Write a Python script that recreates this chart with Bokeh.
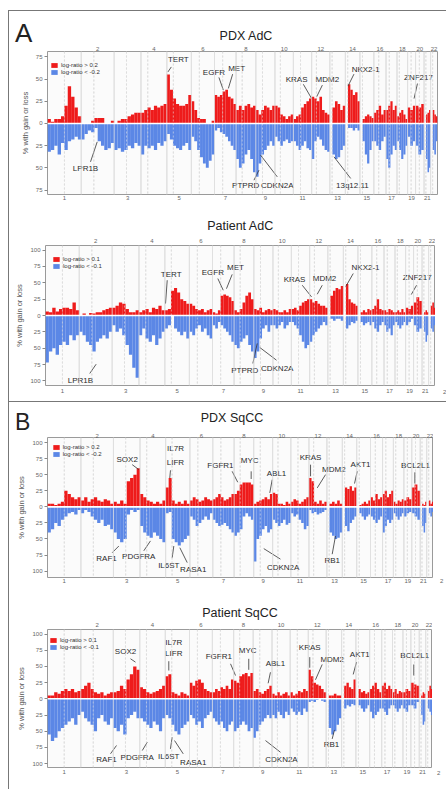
from bokeh.plotting import figure
from bokeh.models import (FixedTicker, LinearAxis, Range1d, Span, Legend, LegendItem, Div)
from bokeh.layouts import column, row
from bokeh.embed import file_html
from bokeh.resources import INLINE
from bokeh.core.properties import value

# ---------------- genome layout (Mb) ----------------
chrom_names = [str(i) for i in range(1, 23)]
chrom_len = [249, 243, 198, 191, 181, 171, 159, 146, 141, 136, 135, 134,
             115, 107, 103, 90, 81, 78, 59, 63, 48, 51]
centromere = [125, 93, 91, 50, 48, 59, 60, 45, 49, 40, 53, 35,
              17, 17, 19, 36, 24, 17, 26, 28, 13, 15]
data_start = [0] * 12 + [19, 19, 20] + [0] * 5 + [14, 16]

# ---------------- % of samples with gain / loss, per chromosome bins ----------------
pdx_adc_gain = [
    [5, 2, 5, 5, 8, 20, 42, 30, 18, 8], [0, 0, 0, 3, 6, 6, 6, 0, 0, 3],
    [0, 3, 5, 5, 8, 10, 12, 12], [12, 15, 18, 15, 20, 18, 20, 22],
    [55, 38, 28, 22, 20, 20, 22, 32], [25, 15, 6, 5, 5, 0, 0, 3],
    [32, 30, 32, 36, 38, 30, 28, 22], [15, 20, 15, 20, 22, 18, 20],
    [15, 10, 15, 20, 18, 15, 20], [20, 18, 10, 8, 5, 8, 10],
    [5, 8, 10, 18, 22, 25, 28], [30, 28, 25, 30, 15, 12, 10],
    [18, 25, 22, 15, 20], [44, 38, 32, 35, 25], [5, 8, 10, 8, 6],
    [12, 15, 20, 10, 15], [15, 20, 25, 15, 20], [8, 12, 15, 10, 5],
    [18, 15, 20], [20, 18, 22], [10, 12, 15], [15, 10, 8]]
pdx_adc_loss = [
    [32, 30, 25, 35, 22, 30, 20, 18, 15, 18], [18, 12, 8, 10, 5, 20, 25, 30, 28, 22],
    [30, 28, 32, 30, 25, 28, 22, 25], [35, 25, 28, 25, 30, 22, 25, 20],
    [12, 18, 25, 28, 30, 25, 22, 30], [15, 20, 30, 38, 45, 50, 42, 35],
    [8, 5, 10, 12, 15, 20, 25, 30], [40, 50, 45, 35, 30, 40, 55],
    [60, 45, 35, 30, 25, 20, 25], [15, 20, 25, 20, 18, 22, 20],
    [20, 25, 30, 25, 20, 28, 30], [40, 20, 15, 18, 25, 30, 32],
    [35, 40, 38, 30, 25], [5, 5, 8, 5, 8], [20, 35, 45, 30, 20],
    [20, 25, 30, 20, 15], [40, 50, 35, 25, 30], [20, 30, 40, 35, 25],
    [15, 25, 20], [25, 35, 30], [40, 55, 50], [30, 35, 20]]

pat_adc_gain = [
    [6, 5, 12, 6, 10, 12, 12, 10, 20, 8], [0, 3, 0, 4, 3, 5, 5, 8, 10, 12],
    [12, 15, 20, 18, 10, 5, 5, 8], [5, 8, 10, 5, 12, 10, 15, 8],
    [8, 10, 38, 42, 35, 25, 22, 18], [18, 15, 10, 8, 10, 5, 8, 10],
    [5, 3, 8, 30, 32, 30, 28, 22], [8, 5, 10, 20, 30, 35, 25],
    [10, 8, 12, 5, 8, 10, 8], [10, 8, 5, 5, 8, 5, 10],
    [10, 12, 8, 15, 20, 22, 25], [25, 20, 22, 18, 15, 15, 12],
    [30, 38, 42, 40, 45], [48, 25, 20, 18, 15], [5, 8, 5, 10, 8],
    [10, 15, 25, 10, 8], [8, 5, 10, 8, 5], [5, 8, 5, 10, 5],
    [12, 10, 15], [20, 28, 22], [5, 8, 5], [15, 20, 12]]
pat_adc_loss = [
    [72, 55, 50, 60, 45, 40, 45, 30, 38, 30], [25, 30, 40, 45, 55, 40, 35, 30, 35, 25],
    [15, 25, 20, 30, 45, 60, 80, 95], [30, 20, 35, 40, 30, 45, 35, 25],
    [20, 15, 0, 20, 25, 30, 25, 35], [25, 30, 20, 15, 25, 20, 30, 35],
    [15, 20, 10, 15, 20, 25, 30, 40], [45, 50, 40, 35, 30, 45, 55],
    [65, 55, 35, 20, 15, 25, 15], [15, 20, 15, 10, 20, 15, 10],
    [10, 15, 20, 30, 40, 50, 45], [40, 30, 25, 20, 15, 10, 15],
    [5, 8, 5, 5, 8], [20, 15, 10, 12, 8], [10, 15, 12, 10, 15],
    [10, 20, 25, 15, 10], [15, 25, 20, 30, 15], [10, 15, 20, 15, 10],
    [15, 10, 5], [15, 25, 20], [25, 40, 30], [20, 25, 15]]

pdx_sqcc_gain = [
    [5, 5, 3, 5, 8, 25, 20, 15, 12, 15], [10, 15, 8, 12, 15, 10, 8, 12, 10, 5],
    [8, 5, 10, 5, 40, 45, 50, 60], [20, 15, 10, 8, 5, 8, 5, 10],
    [30, 45, 10, 5, 8, 5, 10, 5], [10, 15, 12, 8, 10, 15, 12, 10],
    [12, 15, 20, 15, 10, 12, 15, 20], [20, 25, 35, 38, 38, 38, 35],
    [5, 8, 10, 12, 15, 12, 20], [22, 20, 5, 5, 3, 8, 5],
    [8, 12, 10, 5, 8, 12, 15], [45, 40, 8, 5, 10, 5, 8],
    [5, 8, 5, 10, 5], [30, 28, 32, 25, 30], [3, 5, 8, 5, 10],
    [15, 10, 20, 12, 15], [20, 25, 15, 20, 25], [8, 5, 10, 8, 12],
    [10, 15, 12], [30, 35, 25], [5, 3, 8], [10, 5, 8]]
pdx_sqcc_loss = [
    [40, 35, 25, 30, 20, 15, 10, 8, 12, 5], [10, 5, 8, 15, 20, 25, 20, 30, 28, 35],
    [40, 50, 55, 50, 12, 5, 8, 5], [30, 40, 45, 48, 40, 45, 50, 55],
    [10, 8, 50, 55, 60, 55, 50, 45], [15, 20, 30, 25, 20, 15, 20, 10],
    [20, 25, 30, 28, 25, 30, 35, 40], [45, 40, 35, 15, 10, 15, 20],
    [85, 50, 45, 35, 30, 40, 35], [20, 25, 30, 25, 20, 28, 25],
    [10, 15, 12, 20, 25, 35, 30], [5, 10, 8, 12, 10, 8, 5],
    [40, 45, 50, 48, 40], [30, 38, 25, 20, 15], [10, 15, 20, 15, 12],
    [15, 20, 25, 20, 15], [40, 30, 20, 25, 20], [10, 15, 20, 15, 10],
    [15, 10, 8], [10, 15, 20], [30, 40, 25], [10, 15, 8]]

pat_sqcc_gain = [
    [5, 5, 10, 8, 12, 15, 12, 15, 10, 12], [15, 20, 25, 15, 10, 8, 10, 5, 8, 10],
    [10, 12, 20, 15, 30, 38, 50, 45], [18, 15, 10, 8, 10, 12, 15, 20],
    [35, 38, 10, 8, 5, 10, 8, 5], [25, 20, 28, 30, 25, 15, 12, 10],
    [10, 15, 12, 18, 15, 20, 15, 30], [28, 25, 35, 38, 40, 35, 40],
    [12, 15, 10, 8, 12, 15, 20], [8, 5, 10, 5, 8, 10, 5],
    [10, 5, 8, 12, 10, 15, 12], [45, 35, 25, 22, 20, 15, 10],
    [5, 5, 8, 5, 5], [20, 25, 18, 15, 30], [15, 10, 12, 8, 10],
    [15, 20, 25, 15, 10], [20, 25, 15, 20, 15], [10, 15, 8, 12, 10],
    [10, 15, 12], [25, 22, 20], [5, 10, 8], [12, 20, 15]]
pat_sqcc_loss = [
    [55, 65, 60, 50, 45, 40, 35, 30, 40, 25], [20, 30, 35, 40, 50, 30, 25, 35, 40, 30],
    [45, 50, 40, 55, 30, 25, 20, 30], [30, 35, 40, 45, 35, 40, 50, 30],
    [25, 30, 40, 50, 55, 45, 40, 35], [25, 30, 40, 35, 45, 30, 25, 20],
    [30, 35, 40, 35, 45, 50, 40, 35], [50, 45, 40, 35, 40, 50, 45],
    [60, 50, 40, 35, 30, 25, 30], [25, 30, 20, 25, 30, 20, 25],
    [15, 20, 25, 20, 25, 15, 20], [5, 3, 5, 2, 0, 3, 5],
    [45, 55, 50, 40, 30], [15, 10, 12, 8, 10], [10, 15, 20, 15, 10],
    [20, 30, 25, 20, 15], [15, 20, 25, 15, 10], [10, 15, 20, 15, 10],
    [15, 20, 10], [10, 15, 5], [25, 40, 35], [15, 20, 25]]

# gene callouts: text, chrom, position (Mb), value (%), leader-end offset (px), text offset (px)
genes_pdx_adc = [
    ("TERT", 5, 8, 58, 3.4, -5, 10.4, -12.7), ("EGFR", 7, 65, 37.5, -4.4, -12.7, -9.4, -17.7),
    ("MET", 7, 102, 39.4, 4.3, -14.3, 8.3, -20), ("KRAS", 12, 0, 28, -8.3, -14.3, -15, -19.3),
    ("MDM2", 12, 37, 30, 5.7, -11.7, 10.7, -17.7), ("NKX2-1", 14, 19, 42, 6, -12, 17.7, -17),
    ("ZNF217", 19, 48, 28, 3.4, -15, 4.4, -21), ("LPR1B", 2, 118, -20.7, -6.7, 20, -11.7, 26.6),
    ("PTPRD", 9, 23, -52.6, -5, 10, -13.3, 15.7), ("CDKN2A", 9, 35, -35.7, 16.7, 21.7, 16.7, 30),
    ("13q12.11", 13, 31, -37.6, 16.7, 21.6, 18.4, 28.3)]
genes_pat_adc = [
    ("TERT", 5, 5, 18.3, 1.7, -23.3, 5.7, -29.3), ("EGFR", 7, 79, 38.6, -5.4, -11.7, -10.4, -17.7),
    ("MET", 7, 103, 41, 5.7, -14.3, 9, -21), ("KRAS", 12, 14, 28.4, -9.3, -11.7, -17, -17.4),
    ("MDM2", 12, 56, 32.5, 5, -9, 7.3, -15.7), ("NKX2-1", 14, 16, 43.7, 7.7, -13.4, 20, -19),
    ("ZNF217", 19, 42, 32, 5.3, -9.3, 6, -17), ("LPR1B", 2, 125, -74.4, -6.4, 9.3, -15.7, 16),
    ("PTPRD", 9, 25, -42.7, -4.4, 20, -12.4, 26.7), ("CDKN2A", 9, 44, -48.9, 16.7, 12.7, 17.4, 21)]
genes_pdx_sqcc = [
    ("SOX2", 3, 189, 58, -6.6, -5, -11.6, -10.6), ("LIFR", 5, 31, 45, 0.7, -7.7, 5.7, -15.7),
    ("IL7R", 5, 31, 45, None, None, 5.7, -29.4), ("FGFR1", 8, 27, 38.3, -5.6, -11, -17.3, -17),
    ("MYC", 8, 127, 43.4, 0, -7.7, -1.4, -18.7), ("ABL1", 9, 120, 21.7, 2.4, -13.4, 6.7, -20),
    ("KRAS", 12, 12, 47.6, 0, -11.7, 0, -19.3), ("MDM2", 12, 62, 29.5, 8.3, -13.4, 16.6, -19),
    ("AKT1", 14, 91, 36.3, 2.7, -12.3, 6, -19.6), ("BCL2L1", 20, 23, 36.3, 0, -11.3, 0.7, -18.3),
    ("RAF1", 3, 40, -61, -6.6, 6.7, -12.3, 12.3), ("PDGFRA", 4, 78, -53, -6.7, 10, -11.7, 16),
    ("IL6ST", 5, 61, -61, -1.6, 11.7, -5, 19.3), ("RASA1", 5, 106, -63.6, 7.4, 15, 13.4, 22.3),
    ("CDKN2A", 9, 75, -65, 16.7, 10.6, 19.4, 19), ("RB1", 13, 64, -45.4, -3.3, 18.3, -3.3, 25)]
genes_pat_sqcc = [
    ("SOX2", 3, 166, 56.6, -5, -3.4, -10, -10.7), ("LIFR", 5, 26, 43.7, 0, -9.3, 5, -17.3),
    ("IL7R", 5, 26, 43.7, None, None, 5, -27.7), ("FGFR1", 8, 14, 36, -5, -11.7, -16.7, -19.3),
    ("MYC", 8, 113, 44.8, 0, -11, -1, -19.3), ("ABL1", 9, 112, 24, 2.3, -11, 7.3, -20),
    ("KRAS", 12, 11, 48, 0, -10.6, 0, -20.6), ("MDM2", 12, 54, 29.4, 6.7, -15.3, 16.7, -20.3),
    ("AKT1", 14, 87, 37.6, 3.3, -12.3, 6.6, -19.7), ("BCL2L1", 20, 22, 36, 0, -11, 1, -20),
    ("RAF1", 3, 24, -72, -6, 8.3, -10, 14), ("PDGFRA", 4, 56, -67, -5, 8.3, -10, 15),
    ("IL6ST", 5, 51, -59.4, -1.7, 11.6, -3.4, 19), ("RASA1", 5, 69, -64.4, 8.7, 13.3, 18.7, 21.7),
    ("CDKN2A", 9, 92, -64.4, 15, 11.7, 16, 19), ("RB1", 13, 62, -48, -2.3, 9, -3, 14.7)]

RED = "#ee1b1b"
BLUE = "#5b87e6"
FONT = "Liberation Sans"
LINE_GRAY = "#d2d2d2"

starts = []
_s = 0
for L in chrom_len:
    starts.append(_s)
    _s += L
GENOME = _s
centers = [starts[i] + chrom_len[i] / 2 for i in range(22)]


def bins(values):
    left, right, v = [], [], []
    for i, vals in enumerate(values):
        a = starts[i] + data_start[i]
        b = starts[i] + chrom_len[i]
        w = (b - a) / len(vals)
        for k, x in enumerate(vals):
            left.append(a + k * w)
            right.append(a + (k + 1) * w)
            v.append(x)
    return left, right, v


def make_panel(title, gains, losses, thr, yr, yticks, fw, fh, bl, br, bt, bb, genes,
               legend_pos=(4, 9), title_standoff=0, title_offset=0, top_standoff=2,
               bottom_standoff=1):
    p = figure(width=bl + fw + br, height=bt + fh + bb, x_range=Range1d(0, GENOME),
               y_range=Range1d(*yr), output_backend="svg", toolbar_location=None,
               min_border_left=bl, min_border_right=br, min_border_top=bt,
               min_border_bottom=bb, title=title)
    if title:
        p.title.align = "center"
        p.title.text_font = FONT
        p.title.text_font_size = "12.5px"
        p.title.text_font_style = "normal"
        p.title.text_color = "#222222"
        p.title.standoff = title_standoff
        p.title.offset = title_offset
    p.grid.visible = False
    p.background_fill_color = "#fbfbfb"
    p.border_fill_color = "white"
    p.outline_line_color = "#9a9a9a"
    p.outline_line_width = 1

    xs = GENOME / fw
    ys = (yr[1] - yr[0]) / fh

    for i in range(1, 22):
        p.add_layout(Span(location=starts[i], dimension="height", line_color=LINE_GRAY,
                          line_width=1, level="underlay"))
    for i in range(22):
        p.add_layout(Span(location=starts[i] + centromere[i], dimension="height",
                          line_color=LINE_GRAY, line_width=1, line_dash="2 2",
                          level="underlay"))

    gl, gr, gv = bins(gains)
    ll, lr, lv = bins(losses)
    rg = p.quad(left=gl, right=gr, bottom=0, top=gv, fill_color=RED, line_color=None)
    rb = p.quad(left=ll, right=lr, top=0, bottom=[-x for x in lv], fill_color=BLUE,
                line_color=None)
    for i in range(1, 22):
        p.add_layout(Span(location=starts[i], dimension="height", line_color="#e6e6e6",
                          line_width=0.8, line_alpha=0.9))
    for i in range(22):
        p.add_layout(Span(location=starts[i] + centromere[i], dimension="height",
                          line_color="#e6e6e6", line_width=0.7, line_dash="2 2",
                          line_alpha=0.8))
    p.add_layout(Span(location=0, dimension="width", line_color="white", line_width=1.6))

    bottom = p.below[0]
    left = p.left[0]
    left.ticker = FixedTicker(ticks=yticks)
    left.major_label_overrides = {t: str(abs(t)) for t in yticks}
    left.major_label_text_font_size = "6px"
    left.major_label_text_color = "#666666"
    left.major_label_text_font = FONT
    left.major_tick_out = 3
    left.major_tick_in = 0
    left.minor_tick_out = 0
    left.minor_tick_in = 0
    left.major_tick_line_color = "#888888"
    left.axis_line_color = None
    left.major_label_standoff = 2
    left.axis_label = "% with gain or loss"
    left.axis_label_text_font = FONT
    left.axis_label_text_font_size = "7.5px"
    left.axis_label_text_font_style = "normal"
    left.axis_label_text_color = "#555555"
    left.axis_label_standoff = 3

    odd = [centers[i] for i in range(0, 22, 2)]
    even = [centers[i] for i in range(1, 22, 2)]
    names = {c: chrom_names[i] for i, c in enumerate(centers)}
    bottom.ticker = FixedTicker(ticks=odd)
    bottom.major_label_overrides = names
    top = LinearAxis(ticker=FixedTicker(ticks=even), major_label_overrides=names)
    p.add_layout(top, "above")
    for ax, so in ((bottom, bottom_standoff), (top, top_standoff)):
        ax.major_label_text_font_size = "6px"
        ax.major_label_text_color = "#666666"
        ax.major_label_text_font = FONT
        ax.major_tick_out = 0
        ax.major_tick_in = 0
        ax.minor_tick_out = 0
        ax.minor_tick_in = 0
        ax.axis_line_color = None
        ax.major_label_standoff = so

    pad = 1
    leg_h = 2 * 6 + 1 + 2 * pad
    legend = Legend(items=[LegendItem(label=f"log-ratio > {thr}", renderers=[rg]),
                           LegendItem(label=f"log-ratio < -{thr}", renderers=[rb])],
                    location=(legend_pos[0] - pad, fh - (legend_pos[1] - pad) - leg_h))
    legend.label_text_font = FONT
    legend.label_text_font_size = "6px"
    legend.label_text_color = "#333333"
    legend.label_height = 6
    legend.glyph_width = 8
    legend.glyph_height = 6
    legend.spacing = 1
    legend.padding = pad
    legend.margin = 0
    legend.label_standoff = 3
    legend.background_fill_alpha = 0
    legend.border_line_color = None
    p.add_layout(legend)

    sx0, sy0, sx1, sy1 = [], [], [], []
    tx, ty, tt = [], [], []
    for name, ch, pos, val, ldx, ldy, tdx, tdy in genes:
        x = starts[ch - 1] + pos
        if ldx is not None:
            sx0.append(x)
            sy0.append(val)
            sx1.append(x + ldx * xs)
            sy1.append(val - ldy * ys)
        tx.append(x + tdx * xs)
        ty.append(val - tdy * ys)
        tt.append(name)
    p.segment(x0=sx0, y0=sy0, x1=sx1, y1=sy1, line_color="#333333", line_width=0.8)
    p.text(x=tx, y=ty, text=tt, text_font=value(FONT), text_font_size="8px",
           text_color="#2a2a2a", text_align="center", text_baseline="middle")
    return p


def header(letter, letter_size, letter_top, title, title_x, title_top, h):
    html = (f'<div style="position:relative;width:437px;height:{h}px;'
            f'font-family:\'Liberation Sans\',sans-serif;color:#222">'
            f'<span style="position:absolute;left:6px;top:{letter_top}px;'
            f'font-size:{letter_size}px;line-height:{letter_size}px">{letter}</span>'
            f'<span style="position:absolute;left:{title_x}px;top:{title_top}px;'
            f'transform:translateX(-50%);white-space:nowrap;font-size:12.5px;'
            f'line-height:13px">{title}</span></div>')
    return Div(text=html, width=437, height=h, margin=0)


def tail(w, h, top, left):
    html = (f'<div style="position:relative;width:{w}px;height:{h}px;overflow:hidden;'
            f'font-family:\'Liberation Sans\',sans-serif;color:#666">'
            f'<span style="position:absolute;left:{left}px;top:{top}px;font-size:6px;'
            f'line-height:6px">2</span></div>')
    return Div(text=html, width=w, height=h, margin=0)


yt75 = [-75, -50, -25, 0, 25, 50, 75]
yt100 = [-100, -75, -50, -25, 0, 25, 50, 75, 100]

hA = header("A", 26, 9, "PDX AdC", 237, 18.5, 32)
pA1 = make_panel(None, pdx_adc_gain, pdx_adc_loss, "0.2", (-80, 81), yt75,
                 390, 143, 38, 9, 8, 11, genes_pdx_adc, legend_pos=(4, 9.5),
                 top_standoff=1)
pA2 = make_panel("Patient AdC", pat_adc_gain, pat_adc_loss, "0.1", (-107, 107), yt100,
                 390, 140, 36, 0, 40, 16, genes_pat_adc, legend_pos=(8, 10),
                 title_standoff=6, title_offset=7, bottom_standoff=3, top_standoff=3)
hB = header("B", 23, 8.5, "PDX SqCC", 223, 9.5, 28)
pB1 = make_panel(None, pdx_sqcc_gain, pdx_sqcc_loss, "0.2", (-110, 108), yt100,
                 386, 141, 38, 0, 6, 13, genes_pdx_sqcc, legend_pos=(5.7, 7),
                 top_standoff=0)
pB2 = make_panel("Patient SqCC", pat_sqcc_gain, pat_sqcc_loss, "0.1", (-106, 107), yt100,
                 385, 138, 38, 0, 39, 22, genes_pat_sqcc, legend_pos=(3, 6.7),
                 title_standoff=0, title_offset=-2, top_standoff=3, bottom_standoff=2)

rA2 = row(pA2, tail(11, 196, 184, 8), spacing=0)
rB1 = row(pB1, tail(13, 160, 148, 7), spacing=0)
rB2 = row(pB2, tail(14, 199, 180, 5), spacing=0)

colA = column(hA, pA1, rA2, spacing=0,
              styles={"border-top": "1px solid #777", "border-left": "1px solid #777",
                      "border-bottom": "1px solid #777"})
colB = column(hB, rB1, rB2, spacing=0, styles={"border-left": "1px solid #777"})
layout = column(colA, colB, spacing=0, margin=(10, 0, 0, 8))

open("out.html", "w").write(file_html(layout, INLINE))
